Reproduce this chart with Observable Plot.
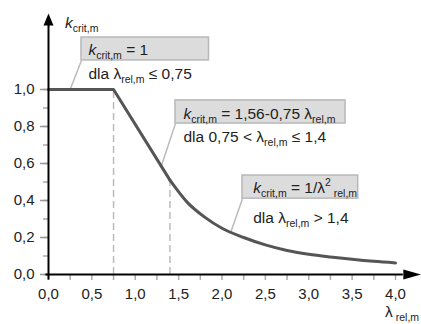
<!DOCTYPE html>
<html>
<head>
<meta charset="utf-8">
<script src="https://cdn.jsdelivr.net/npm/d3@7"></script>
<script src="https://cdn.jsdelivr.net/npm/@observablehq/plot@0.6"></script>
<style>
  html, body { margin: 0; padding: 0; background: #fff; }
  svg { display: block; }
</style>
</head>
<body>
<div id="chart"></div>
<script>
// ---- data ----
const curveX = [0, 0.75, 1.4, 1.6, 1.8, 2.0, 2.25, 2.5, 2.75, 3.0, 3.25, 3.5, 3.75, 4.0];
const curveY = [1.0, 1.0, 0.51, 0.39, 0.31, 0.25, 0.20, 0.16, 0.13, 0.11, 0.095, 0.082, 0.071, 0.0625];
const limitX = [0.75, 1.4];
const xTicks = [0, 0.5, 1, 1.5, 2, 2.5, 3, 3.5, 4];
const xTickLabels = ["0,0", "0,5", "1,0", "1,5", "2,0", "2,5", "3,0", "3,5", "4,0"];
const yTicks = [0, 0.2, 0.4, 0.6, 0.8, 1.0];
const yTickLabels = ["0,0", "0,2", "0,4", "0,6", "0,8", "1,0"];
const xMinor = d3.range(0, 4.001, 0.25);
const yMinor = d3.range(0, 1.001, 0.1);

// rich text: [text, kind]  kind: "" normal, "i" italic, "sub", "sup"
const richTexts = [
  [["k", "i"], ["crit,m", "sub"], [" = 1", ""]],
  [["dla λ", ""], ["rel,m", "sub"], [" ≤ 0,75", ""]],
  [["k", "i"], ["crit,m", "sub"], [" = 1,56-0,75 λ", ""], ["rel,m", "sub"]],
  [["dla 0,75 < λ", ""], ["rel,m", "sub"], [" ≤ 1,4", ""]],
  [["k", "i"], ["crit,m", "sub"], [" = 1/λ", ""], ["2", "sup"], [" rel,m", "sub"]],
  [["dla λ", ""], ["rel,m", "sub"], [" > 1,4", ""]],
  [["k", "i"], ["crit,m", "sub"]],
  [["λ", ""], [" rel,m", "sub"]]
];

// ---- layout (annotation placement) ----
const textPos = [
  {x: 0.46, y: 1.185}, {x: 0.46, y: 1.055},
  {x: 1.556, y: 0.84}, {x: 1.556, y: 0.715},
  {x: 2.36, y: 0.44}, {x: 2.36, y: 0.281},
  {x: 0.19, y: 1.33}, {x: 3.88, y: -0.232}
];
const boxes = [
  {x1: 0.38, x2: 1.85, y1: 1.157, y2: 1.281},
  {x1: 1.464, x2: 3.424, y1: 0.816, y2: 0.941},
  {x1: 2.236, x2: 3.57, y1: 0.41, y2: 0.535}
];
const leaders = [
  {x1: 0.38, y1: 1.157, x2: 0.25, y2: 1.0},
  {x1: 1.464, y1: 0.816, x2: 1.3, y2: 0.585},
  {x1: 2.236, y1: 0.41, x2: 2.1, y2: 0.227}
];

const curve = curveX.map((x, i) => ({x, y: curveY[i]}));
const linearPart = curve.slice(0, 3);
const smoothPart = curve.slice(2);

const arrowHead = {
  draw(ctx, size) {
    const r = Math.sqrt(size / Math.PI);
    ctx.moveTo(0, -r);
    ctx.lineTo(5, 0);
    ctx.lineTo(-5, 0);
    ctx.closePath();
  }
};

const labelData = richTexts.map((parts, i) => ({...textPos[i], plain: parts.map(p => p[0]).join("")}));

const chart = Plot.plot({
  width: 421,
  height: 324,
  marginLeft: 48,
  marginRight: 26,
  marginTop: 89,
  marginBottom: 50,
  x: {domain: [0, 4]},
  y: {domain: [0, 1]},
  style: {fontFamily: "'Liberation Sans', Arial, sans-serif", fontSize: "15px", color: "#222", background: "#fff"},
  marks: [
    // minor ticks
    Plot.axisX(xMinor, {tickSize: 6, tickFormat: () => "", stroke: "#aaa", strokeWidth: 1.5, label: null}),
    Plot.axisY(yMinor, {tickSize: 5, tickFormat: () => "", stroke: "#aaa", strokeWidth: 1.5, label: null}),
    Plot.axisY(yTicks, {tickSize: 8, tickPadding: 6, tickFormat: d => yTickLabels[yTicks.indexOf(d)], stroke: "#999", strokeWidth: 1.5, fill: "#222", fontSize: 15, label: null}),
    Plot.axisX(xTicks, {tickSize: 0, tickPadding: 14, tickFormat: d => xTickLabels[xTicks.indexOf(d)], fill: "#222", fontSize: 15, label: null}),
    // dashed limits
    Plot.ruleX(limitX, {y1: 0, y2: d => curveY[curveX.indexOf(d)], stroke: "#bbb", strokeWidth: 1.5, strokeDasharray: "7,4"}),
    // annotation leaders and boxes
    Plot.link(leaders, {x1: "x1", y1: "y1", x2: "x2", y2: "y2", stroke: "#bbb", strokeWidth: 1.5}),
    Plot.rect(boxes, {x1: "x1", x2: "x2", y1: "y1", y2: "y2", fill: "#dcdcdc", stroke: "#b8b8b8", strokeWidth: 1.5}),
    // curve
    Plot.line(linearPart, {x: "x", y: "y", stroke: "#555", strokeWidth: 3}),
    Plot.line(smoothPart, {x: "x", y: "y", stroke: "#555", strokeWidth: 3, curve: "monotone-x"}),
    // axes lines and arrows
    Plot.ruleY([0], {x1: -0.03, x2: 4.09, stroke: "#000", strokeWidth: 2}),
    Plot.ruleX([0], {y1: -0.03, y2: 1.346, stroke: "#000", strokeWidth: 2}),
    Plot.dot([0], {x: 0, y: 1.346, r: 12, symbol: arrowHead, fill: "#000", stroke: "none"}),
    Plot.dot([0], {x: 4.09, y: 0, r: 18, symbol: arrowHead, fill: "#000", stroke: "none", rotate: 90}),
    // texts
    Plot.text(labelData, {x: "x", y: "y", text: "plain", textAnchor: "start", lineAnchor: "bottom", fill: "#222", fontSize: 15.5})
  ]
});

document.getElementById("chart").appendChild(chart);

// rebuild rich text with italics and sub/superscripts
const labelNodes = d3.select(chart).selectAll("text").filter(function() {
  return labelData.some(d => d.plain === this.textContent);
}).nodes();
labelNodes.forEach(node => {
  const i = labelData.findIndex(d => d.plain === node.textContent);
  const t = d3.select(node);
  t.text(null);
  let shift = 0;
  for (const [str, kind] of richTexts[i]) {
    const target = kind === "sub" ? 4 : kind === "sup" ? -7 : 0;
    const ts = t.append("tspan").text(str);
    if (target !== shift) { ts.attr("dy", target - shift); shift = target; }
    if (kind === "i") ts.attr("font-style", "italic");
    if (kind === "sub" || kind === "sup") ts.attr("font-size", 10.5);
  }
});
</script>
</body>
</html>
